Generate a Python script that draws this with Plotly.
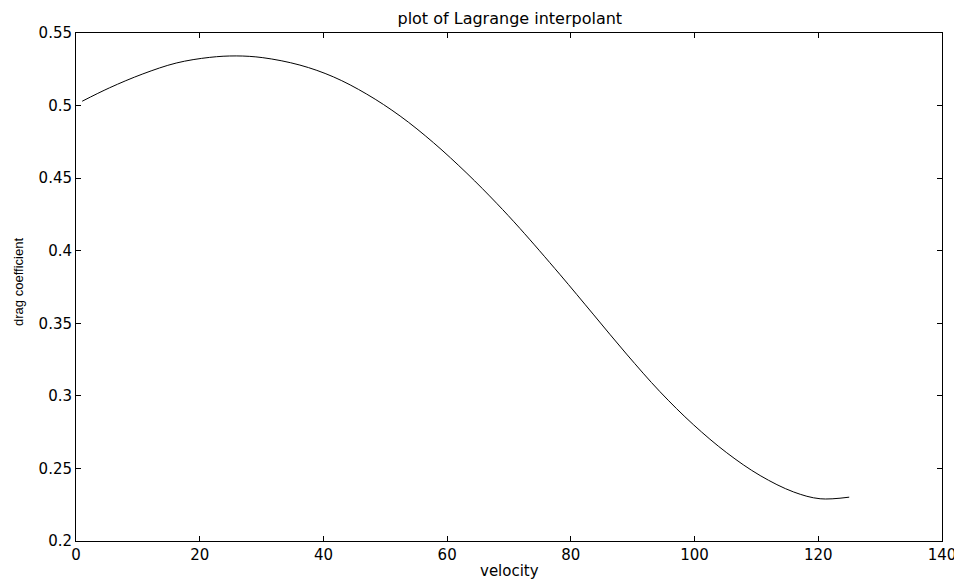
import plotly.graph_objects as go

velocity = [1, 5.4, 10.8, 16.2, 21.6, 25.9, 30.2, 36.2, 41.6, 47.0, 52.4, 57.8,
            63.2, 68.0, 71.8, 78.2, 83.6, 89.0, 94.4, 99.8, 105.2, 110.6, 116.0,
            120.3, 125]
drag = [0.5030, 0.5122, 0.5218, 0.5293, 0.5332, 0.5342, 0.5330, 0.5279, 0.5198,
        0.5079, 0.4928, 0.4744, 0.4533, 0.4327, 0.4152, 0.3838, 0.3563, 0.3288,
        0.3029, 0.2802, 0.2608, 0.2451, 0.2338, 0.2291, 0.2302]

x_ticks = [0, 20, 40, 60, 80, 100, 120, 140]
y_ticks = [0.2, 0.25, 0.3, 0.35, 0.4, 0.45, 0.5, 0.55]
y_tick_labels = ["0.2", "0.25", "0.3", "0.35", "0.4", "0.45", "0.5", "0.55"]

fig = go.Figure()
fig.add_trace(go.Scatter(
    x=velocity, y=drag, mode="lines",
    line=dict(color="black", width=1, shape="spline", smoothing=1.0),
    showlegend=False, hoverinfo="skip",
))

tick_font = dict(family="DejaVu Sans", size=15, color="black")
axis_common = dict(
    showline=True, linecolor="black", linewidth=1, mirror="ticks",
    ticks="inside", ticklen=5, tickcolor="black", tickwidth=1,
    showgrid=False, zeroline=False, tickfont=tick_font, automargin=False,
)

# The page body adds an 8px offset, so the figure is 8px smaller than the window.
fig.update_layout(
    width=954, height=574,
    margin=dict(l=68, r=20, t=25, b=41),
    paper_bgcolor="white", plot_bgcolor="white",
    title=dict(text="plot of Lagrange interpolant", x=0.526, xanchor="center",
               y=0.9826, yanchor="middle",
               font=dict(family="DejaVu Sans", size=16, color="black")),
    xaxis=dict(range=[0, 140], tickvals=x_ticks, ticktext=[str(v) for v in x_ticks],
               **axis_common),
    yaxis=dict(range=[0.2, 0.55], tickvals=y_ticks, ticktext=y_tick_labels,
               **axis_common),
    annotations=[
        dict(text="velocity", xref="paper", yref="paper", x=0.5, y=-0.0591,
             xanchor="center", yanchor="middle", showarrow=False,
             font=dict(family="DejaVu Sans", size=15, color="black")),
        dict(text="drag coefficient", xref="paper", yref="paper", x=-0.0658, y=0.51,
             xanchor="center", yanchor="middle", showarrow=False, textangle=-90,
             font=dict(family="Liberation Sans", size=13, color="black")),
    ],
)

fig.write_html("out.html")
